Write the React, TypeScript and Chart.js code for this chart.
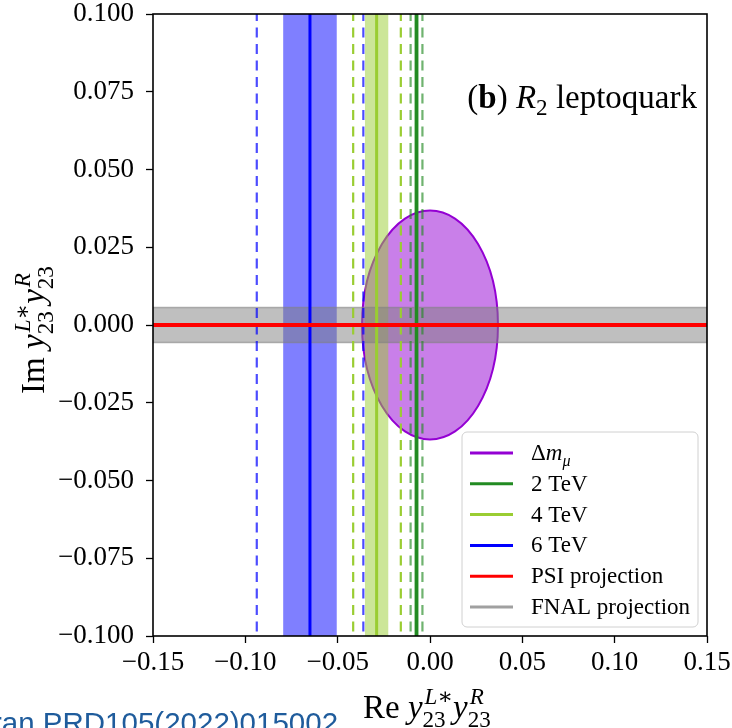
import React, { useEffect, useRef } from "react";
import { Chart, registerables } from "chart.js";

Chart.register(...registerables);

// ---- axes ----
const xRange = [-0.15, 0.15];
const yRange = [-0.1, 0.1];
const xTicks = [-0.15, -0.1, -0.05, 0.0, 0.05, 0.1, 0.15];
const xTickLabels = ["\u22120.15", "\u22120.10", "\u22120.05", "0.00", "0.05", "0.10", "0.15"];
const yTicks = [-0.1, -0.075, -0.05, -0.025, 0.0, 0.025, 0.05, 0.075, 0.1];
const yTickLabels = ["\u22120.100", "\u22120.075", "\u22120.050", "\u22120.025", "0.000", "0.025", "0.050", "0.075", "0.100"];

// ---- 6 TeV ----
const tev6Central = -0.065;
const tev6Band = [-0.0795, -0.0505];
const tev6Dashed = [-0.0938, -0.0361];
// ---- 4 TeV ----
const tev4Central = -0.0289;
const tev4Band = [-0.0352, -0.0226];
const tev4Dashed = [-0.0416, -0.0158];
// ---- 2 TeV ----
const tev2Central = -0.0073;
const tev2Band = [-0.0086, -0.0060];
const tev2Dashed = [-0.0105, -0.0041];
// ---- Δm_μ region ----
const dmCenter = [0.0, 0.0];
const dmRadii = [0.0368, 0.0368];
// ---- projections ----
const fnalBand = [-0.0056, 0.0056];
const psiValue = 0.0;

const legendLabels = ["Δm_μ", "2 TeV", "4 TeV", "6 TeV", "PSI projection", "FNAL projection"];
const legendColors = ["#9400d3", "#228b22", "#9acd32", "#0000ff", "#ff0000", "#a0a0a0"];

const SERIF = '"Liberation Serif", "DejaVu Serif", serif';
const sf = (size: number, style = "") => `${style} ${size}px ${SERIF}`.trim();

type Piece = { t: string; f: string };
type Item =
  | { kind: "t"; runs: Piece[]; dy?: number }
  | { kind: "s"; sup: Piece[]; sub: Piece[]; supDy: number; subDy: number; pad?: number };

function runsWidth(ctx: CanvasRenderingContext2D, runs: Piece[]) {
  let w = 0;
  for (const r of runs) {
    ctx.font = r.f;
    w += ctx.measureText(r.t).width;
  }
  return w;
}
function drawRuns(ctx: CanvasRenderingContext2D, runs: Piece[], x: number, y: number) {
  for (const r of runs) {
    ctx.font = r.f;
    ctx.fillText(r.t, x, y);
    x += ctx.measureText(r.t).width;
  }
  return x;
}
function itemsWidth(ctx: CanvasRenderingContext2D, items: Item[]) {
  let w = 0;
  for (const it of items) {
    if (it.kind === "t") w += runsWidth(ctx, it.runs);
    else w += Math.max(runsWidth(ctx, it.sup) + (it.pad || 0), runsWidth(ctx, it.sub));
  }
  return w;
}
function drawItems(ctx: CanvasRenderingContext2D, items: Item[], x: number, y: number) {
  for (const it of items) {
    if (it.kind === "t") {
      drawRuns(ctx, it.runs, x, y + (it.dy || 0));
      x += runsWidth(ctx, it.runs);
    } else {
      const p = it.pad || 0;
      drawRuns(ctx, it.sup, x + p, y + it.supDy);
      drawRuns(ctx, it.sub, x, y + it.subDy);
      x += Math.max(runsWidth(ctx, it.sup) + p, runsWidth(ctx, it.sub));
    }
  }
  return x;
}

function axisItems(prefix: string, S: number): Item[] {
  const s = S * 0.7;
  return [
    { kind: "t", runs: [{ t: prefix + " ", f: sf(S) }] },
    { kind: "t", runs: [{ t: "y", f: sf(S, "italic") }] },
    {
      kind: "s",
      sup: [
        { t: "L", f: sf(s, "italic") },
        { t: "\u2217", f: sf(s) },
      ],
      sub: [{ t: "23", f: sf(s) }],
      supDy: -0.42 * S,
      subDy: 0.28 * S,
      pad: 0.06 * S,
    },
    { kind: "t", runs: [{ t: "y", f: sf(S, "italic") }] },
    {
      kind: "s",
      sup: [{ t: "R", f: sf(s, "italic") }],
      sub: [{ t: "23", f: sf(s) }],
      supDy: -0.42 * S,
      subDy: 0.28 * S,
      pad: 0.06 * S,
    },
  ];
}

const overlayPlugin = {
  id: "overlay",
  beforeDatasetsDraw(chart: any) {
    const { ctx, chartArea: a, scales } = chart;
    const x = scales.x;
    const y = scales.y;
    ctx.save();
    ctx.beginPath();
    ctx.rect(a.left, a.top, a.right - a.left, a.bottom - a.top);
    ctx.clip();
    // Δm_μ region
    const cx = x.getPixelForValue(dmCenter[0]);
    const cy = y.getPixelForValue(dmCenter[1]);
    const rx = Math.abs(x.getPixelForValue(dmCenter[0] + dmRadii[0]) - cx);
    const ry = Math.abs(y.getPixelForValue(dmCenter[1] + dmRadii[1]) - cy);
    ctx.beginPath();
    ctx.ellipse(cx, cy, rx, ry, 0, 0, Math.PI * 2);
    ctx.fillStyle = "rgba(148,0,211,0.5)";
    ctx.fill();
    ctx.strokeStyle = "#9400d3";
    ctx.lineWidth = 2;
    ctx.stroke();
    // vertical bands
    const vband = (b: number[], color: string) => {
      const x1 = x.getPixelForValue(b[0]);
      const x2 = x.getPixelForValue(b[1]);
      ctx.fillStyle = color;
      ctx.fillRect(x1, a.top, x2 - x1, a.bottom - a.top);
    };
    vband(tev6Band, "rgba(0,0,255,0.5)");
    vband(tev4Band, "rgba(154,205,50,0.5)");
    vband(tev2Band, "rgba(34,139,34,0.45)");
    // FNAL band
    const y1 = y.getPixelForValue(fnalBand[1]);
    const y2 = y.getPixelForValue(fnalBand[0]);
    ctx.fillStyle = "rgba(128,128,128,0.5)";
    ctx.fillRect(a.left, y1, a.right - a.left, y2 - y1);
    ctx.strokeStyle = "rgba(128,128,128,0.6)";
    ctx.lineWidth = 1.5;
    ctx.beginPath();
    ctx.moveTo(a.left, y1);
    ctx.lineTo(a.right, y1);
    ctx.moveTo(a.left, y2);
    ctx.lineTo(a.right, y2);
    ctx.stroke();
    ctx.restore();
  },
  afterDraw(chart: any) {
    const { ctx, chartArea: a } = chart;
    ctx.save();
    // frame
    ctx.strokeStyle = "#000";
    ctx.lineWidth = 1.6;
    ctx.strokeRect(a.left, a.top, a.right - a.left, a.bottom - a.top);

    ctx.fillStyle = "#000";
    ctx.textBaseline = "alphabetic";
    ctx.textAlign = "left";

    // title inside
    const T = 33;
    const titleItems: Item[] = [
      { kind: "t", runs: [{ t: "(", f: sf(T) }, { t: "b", f: sf(T, "bold") }, { t: ") ", f: sf(T) }] },
      { kind: "t", runs: [{ t: "R", f: sf(T, "italic") }] },
      { kind: "t", runs: [{ t: "2", f: sf(T * 0.7) }], dy: 0.22 * T },
      { kind: "t", runs: [{ t: " leptoquark", f: sf(T) }] },
    ];
    const tw = itemsWidth(ctx, titleItems);
    drawItems(ctx, titleItems, 697 - tw, 108);

    // x axis title
    const S = 33;
    const xi = axisItems("Re", S);
    const xw = itemsWidth(ctx, xi);
    drawItems(ctx, xi, 363, 718);

    // y axis title
    const yi = axisItems("Im", S);
    const yw = itemsWidth(ctx, yi);
    ctx.save();
    ctx.translate(44, 330);
    ctx.rotate(-Math.PI / 2);
    drawItems(ctx, yi, -yw / 2, 0);
    ctx.restore();

    // legend
    const lx = 462, ly = 432, lw = 236, lh = 195, r = 5;
    ctx.beginPath();
    ctx.moveTo(lx + r, ly);
    ctx.arcTo(lx + lw, ly, lx + lw, ly + lh, r);
    ctx.arcTo(lx + lw, ly + lh, lx, ly + lh, r);
    ctx.arcTo(lx, ly + lh, lx, ly, r);
    ctx.arcTo(lx, ly, lx + lw, ly, r);
    ctx.closePath();
    ctx.fillStyle = "rgba(255,255,255,0.85)";
    ctx.fill();
    ctx.strokeStyle = "#d0d0d0";
    ctx.lineWidth = 1;
    ctx.stroke();
    const L = 23;
    legendLabels.forEach((lab, i) => {
      const cyL = 453 + i * 30.8;
      ctx.strokeStyle = legendColors[i];
      ctx.lineWidth = 3;
      ctx.beginPath();
      ctx.moveTo(470, cyL);
      ctx.lineTo(513, cyL);
      ctx.stroke();
      ctx.fillStyle = "#000";
      let items: Item[];
      if (i === 0) {
        items = [
          { kind: "t", runs: [{ t: "Δ", f: sf(L) }, { t: "m", f: sf(L, "italic") }] },
          { kind: "t", runs: [{ t: "μ", f: sf(L * 0.7, "italic") }], dy: 0.25 * L },
        ];
      } else {
        items = [{ kind: "t", runs: [{ t: lab, f: sf(L) }] }];
      }
      drawItems(ctx, items, 531, cyL + 7);
    });

    // source note
    ctx.fillStyle = "#1f5c9c";
    ctx.font = '29.5px "Liberation Sans", Arial, sans-serif';
    ctx.fillText("ran PRD105(2022)015002", -8, 733);
    ctx.restore();
  },
};

function vline(v: number, color: string, width: number, dash: number[], order = 2) {
  return {
    data: [
      { x: v, y: yRange[1] },
      { x: v, y: yRange[0] },
    ],
    showLine: true,
    borderColor: color,
    borderWidth: width,
    borderDash: dash,
    borderDashOffset: 3,
    pointRadius: 0,
    order,
  };
}

const zeroPad = (s: any) => {
  s.paddingTop = 0;
  s.paddingBottom = 0;
  s.paddingLeft = 0;
  s.paddingRight = 0;
};

export default function App() {
  const ref = useRef<HTMLCanvasElement | null>(null);
  useEffect(() => {
    if (!ref.current) return;
    const DASH = [10, 6.5];
    const datasets: any[] = [
      vline(tev6Dashed[0], "rgba(0,0,255,0.7)", 2.2, DASH),
      vline(tev6Dashed[1], "rgba(0,0,255,0.7)", 2.2, DASH),
      vline(tev6Central, "#0000ff", 3, []),
      vline(tev4Dashed[0], "#9acd32", 2.2, DASH),
      vline(tev4Dashed[1], "#9acd32", 2.2, DASH),
      vline(tev4Central, "#9acd32", 3, []),
      vline(tev2Dashed[0], "rgba(34,139,34,0.65)", 2.2, DASH),
      vline(tev2Dashed[1], "rgba(34,139,34,0.65)", 2.2, DASH),
      vline(tev2Central, "#228b22", 3, []),
      {
        data: [
          { x: xRange[0], y: psiValue },
          { x: xRange[1], y: psiValue },
        ],
        showLine: true,
        borderColor: "#ff0000",
        borderWidth: 4,
        pointRadius: 0,
        order: 0,
      },
    ];
    const tickFont = { family: SERIF, size: 27, lineHeight: 1 };
    const chart = new Chart(ref.current, {
      type: "scatter",
      data: { datasets },
      options: {
        animation: false,
        responsive: false,
        devicePixelRatio: 1,
        layout: { padding: { top: 14, right: 25, left: 0, bottom: 0 } },
        plugins: { legend: { display: false }, tooltip: { enabled: false } },
        scales: {
          x: {
            type: "linear",
            min: xRange[0],
            max: xRange[1],
            afterBuildTicks: (s: any) => {
              s.ticks = xTicks.map((v) => ({ value: v }));
            },
            afterFit: (s: any) => {
              s.height = 92;
              zeroPad(s);
            },
            ticks: {
              callback: (_v: any, i: number) => xTickLabels[i],
              font: tickFont,
              color: "#000",
              padding: 6,
              maxRotation: 0,
              autoSkip: false,
            },
            grid: { drawOnChartArea: false, drawTicks: true, tickLength: 7, tickColor: "#000", tickWidth: 1.3 },
            border: { display: false },
          },
          y: {
            type: "linear",
            min: yRange[0],
            max: yRange[1],
            afterBuildTicks: (s: any) => {
              s.ticks = yTicks.map((v) => ({ value: v }));
            },
            afterFit: (s: any) => {
              s.width = 153;
              zeroPad(s);
            },
            ticks: {
              callback: (_v: any, i: number) => yTickLabels[i],
              font: tickFont,
              color: "#000",
              padding: 12,
              autoSkip: false,
            },
            grid: { drawOnChartArea: false, drawTicks: true, tickLength: 7, tickColor: "#000", tickWidth: 1.3 },
            border: { display: false },
          },
        },
      } as any,
      plugins: [overlayPlugin as any],
    });
    return () => chart.destroy();
  }, []);
  return (
    <div style={{ position: "absolute", left: 0, top: 0, width: 732, height: 728, background: "#fff" }}>
      <canvas ref={ref} width={732} height={728} />
    </div>
  );
}
